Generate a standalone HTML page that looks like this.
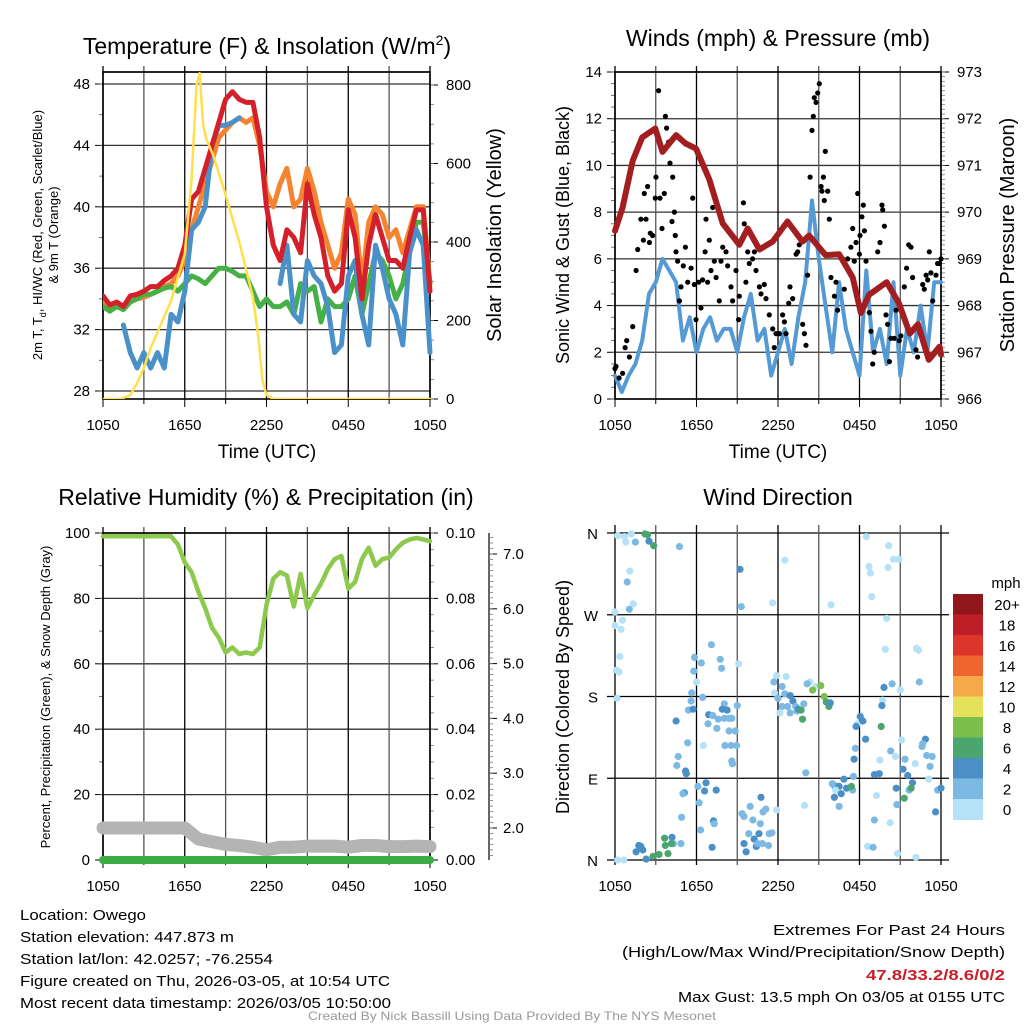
<!DOCTYPE html>
<html><head><meta charset="utf-8"><style>
html,body{margin:0;padding:0;background:#fff}
svg{display:block;font-family:"Liberation Sans",sans-serif}
</style></head><body>
<svg id="fig" width="1024" height="1024" viewBox="0 0 1024 1024" xmlns="http://www.w3.org/2000/svg">
<rect width="1024" height="1024" fill="#fff"/>
<g id="p1"></g>
<g id="p2"></g>
<g id="p3"></g>
<g id="p4"></g>

<text x="267" y="54" font-size="23" text-anchor="middle">Temperature (F) &amp; Insolation (W/m<tspan dy="-9" font-size="14">2</tspan><tspan dy="9">)</tspan></text>
<text x="778" y="46" font-size="23" text-anchor="middle">Winds (mph) &amp; Pressure (mb)</text>
<text x="266" y="505" font-size="23" text-anchor="middle">Relative Humidity (%) &amp; Precipitation (in)</text>
<text x="778" y="505" font-size="23" text-anchor="middle">Wind Direction</text>

<text x="267" y="458" font-size="19" text-anchor="middle">Time (UTC)</text>
<text x="778" y="458" font-size="19" text-anchor="middle">Time (UTC)</text>

<text transform="translate(42,235) rotate(-90)" font-size="13" text-anchor="middle">2m T, T<tspan dy="4" font-size="9">d</tspan><tspan dy="-4">, HI/WC (Red, Green, Scarlet/Blue)</tspan></text>
<text transform="translate(58,235) rotate(-90)" font-size="13" text-anchor="middle">&amp; 9m T (Orange)</text>
<text transform="translate(501,235) rotate(-90)" font-size="20" text-anchor="middle">Solar Insolation (Yellow)</text>
<text transform="translate(569,235) rotate(-90)" font-size="18" text-anchor="middle">Sonic Wind &amp; Gust (Blue, Black)</text>
<text transform="translate(1014,235) rotate(-90)" font-size="20" text-anchor="middle">Station Pressure (Maroon)</text>
<text transform="translate(50,697) rotate(-90)" font-size="13" text-anchor="middle">Percent, Precipitation (Green), &amp; Snow Depth (Gray)</text>
<text transform="translate(569,697) rotate(-90)" font-size="18" text-anchor="middle">Direction (Colored By Speed)</text>

<g font-size="15">
<text x="20" y="920" textLength="126" lengthAdjust="spacingAndGlyphs">Location: Owego</text>
<text x="20" y="942" textLength="214" lengthAdjust="spacingAndGlyphs">Station elevation: 447.873 m</text>
<text x="20" y="964" textLength="253" lengthAdjust="spacingAndGlyphs">Station lat/lon: 42.0257; -76.2554</text>
<text x="20" y="986" textLength="370" lengthAdjust="spacingAndGlyphs">Figure created on Thu, 2026-03-05, at 10:54 UTC</text>
<text x="20" y="1008" textLength="371" lengthAdjust="spacingAndGlyphs">Most recent data timestamp: 2026/03/05 10:50:00</text>
</g>
<g font-size="15">
<text x="773" y="935" textLength="232" lengthAdjust="spacingAndGlyphs">Extremes For Past 24 Hours</text>
<text x="622" y="957" textLength="383" lengthAdjust="spacingAndGlyphs">(High/Low/Max Wind/Precipitation/Snow Depth)</text>
<text x="866" y="980" textLength="139" lengthAdjust="spacingAndGlyphs" fill="#c8202a" font-weight="bold">47.8/33.2/8.6/0/2</text>
<text x="678" y="1002" textLength="327" lengthAdjust="spacingAndGlyphs">Max Gust: 13.5 mph On 03/05 at 0155 UTC</text>
</g>
<text x="308" y="1020" font-size="12" fill="#999" textLength="408" lengthAdjust="spacingAndGlyphs">Created By Nick Bassill Using Data Provided By The NYS Mesonet</text>
</svg>
<script>
// ---------- DATA ----------
const halfHours = [0,0.5,1,1.5,2,2.5,3,3.5,4,4.5,5,5.5,6,6.5,7,7.5,8,8.5,9,9.5,10,10.5,11,11.5,12,12.5,13,13.5,14,14.5,15,15.5,16,16.5,17,17.5,18,18.5,19,19.5,20,20.5,21,21.5,22,22.5,23,23.5,24];
const tempRed = [34.2,33.6,33.8,33.5,34.2,34.3,34.5,34.8,34.8,35.2,35.5,36.0,37.5,40.5,41,42.5,44,45.5,47,47.5,47,46.8,46.8,44.5,40,37.5,36.5,38.5,38,37,41.5,39.5,38,35.5,34.5,35,39.8,38,34,37.5,39.5,38,36.5,36.5,36,38,39.8,39.8,34.5];
const tempOrange = [33.9,33.4,33.6,33.4,33.9,34,34.1,34.3,34.5,34.8,35,35.5,36.5,38.5,40,41.5,43,44.5,45,45.5,45.8,45.5,45.8,44,41,40,41.5,42.5,40,40.5,42.5,41,39,37.5,36,37,40.5,39.5,35,39,40,39.5,38,38.5,37,38.5,40,40,35];
const tempGreen = [33.5,33.2,33.5,33.3,33.8,34,34.3,34.3,34.5,34.7,34.8,34.5,35,35.5,35.3,35,35.5,36,36,35.8,35.5,35.5,34.5,33.5,34,33.5,33.5,33.8,33,35,34.5,34.8,32.5,34,33.5,33.5,34,35.5,33,35,37,36.5,35.5,34,35,37,39,39,35];
const tempBlue = [null,null,null,32.3,30.5,29.5,30.5,29.5,30.5,29.5,33,32.5,34.5,38.5,39,40,44,45.3,45.3,45.5,45.8,null,null,null,null,null,35,37.5,33,32.5,36.5,35.5,35,33.5,30.5,31,35.5,36.5,33,31,37.5,36,34,33,31,37,38.5,37.5,30.5];
const solarHours = [0,1.3,2,2.5,3,3.5,4,4.5,5,5.5,6,6.5,6.86,7.1,7.35,7.6,8.1,9,10,11,11.4,11.7,12,12.5,24];
const solar = [0,0,10,40,80,130,170,210,250,310,370,560,800,830,700,660,620,520,400,260,160,50,10,0,0];
const pressHours = [0,0.56,1.3,2.0,2.97,3.5,4.5,5.2,5.96,6.94,7.93,9.15,9.77,10.63,11.6,12.7,13.8,14.3,15.5,16.5,17.5,18.1,18.7,20,20.9,21.7,22.3,23.1,23.9,24];
const pressure = [969.6,970.1,971.1,971.6,971.79,971.29,971.65,971.47,971.36,970.7,969.76,969.3,969.65,969.2,969.37,969.8,969.37,969.5,969.08,969.1,968.6,967.84,968.23,968.5,968.05,967.4,967.6,966.84,967.12,966.95];
const windSpeed = [1,0.3,1,1.5,2.5,4.5,5,6,5.5,5,2.5,3.5,2,3,3.5,2.5,3,3,2,3.5,4.5,2.5,3,1,2,3,1.5,3.5,5,8.5,6,4,2,5,3,2,1,5.5,2,3,1.5,5,1,3,2,4,2,5,5];
const gustHours = [0,0.07,0.3,0.56,0.74,0.86,1.06,1.3,1.55,1.67,1.91,2.09,2.16,2.28,2.4,2.53,2.6,2.77,2.97,3.02,3.21,3.31,3.46,3.63,3.71,3.8,3.95,4.05,4.2,4.25,4.37,4.44,4.49,4.61,4.74,4.86,5.03,5.18,5.35,5.6,5.72,5.84,5.96,6.16,6.33,6.45,6.63,6.7,6.82,6.94,7.07,7.19,7.31,7.44,7.68,7.8,7.93,8.17,8.29,8.54,8.66,8.91,9.1,9.15,9.45,9.52,9.64,9.77,9.89,10.13,10.26,10.38,10.63,10.75,10.99,11.12,11.36,11.61,11.73,11.85,12.1,12.34,12.47,12.59,12.79,12.88,13.08,13.33,13.45,13.57,13.82,13.94,14.06,14.18,14.36,14.5,14.6,14.67,14.8,14.92,15.04,15.17,15.24,15.34,15.41,15.48,15.66,15.78,15.9,16.15,16.27,16.39,16.76,16.88,17.13,17.37,17.5,17.62,17.74,17.87,17.99,18.04,18.18,18.28,18.36,18.48,18.72,18.85,18.97,19.09,19.34,19.51,19.66,19.71,19.83,19.95,20.07,20.2,20.32,20.56,20.69,20.93,21.05,21.3,21.47,21.62,21.79,21.91,22.16,22.28,22.65,22.77,22.9,23.02,23.14,23.26,23.39,23.63,23.75,23.88,24];
const gustSpeed = [1.3,1.4,0.9,1.1,2.2,2.5,1.8,3.1,5.5,6.4,7.7,6.8,8.8,7.7,9.1,6.7,7.1,7,8.6,9.5,13.2,8.6,7.3,8.8,12.1,11.6,11,10.1,7.6,9.5,8,7,6.3,5.9,4.2,4.8,5.7,6.5,5,5.6,8.6,4.9,3.4,5,3.9,5.1,6.3,7.7,5,6.8,5.5,8.2,5.9,5.2,4.2,5.9,6.5,6.3,5.7,4.8,4.2,5.5,3.4,4.4,8.4,7.5,5,6.3,5.8,6,6.3,5.5,4.8,4.5,4.9,4.3,3.6,3,2.2,2.8,2.8,3.6,3.3,2.8,4.1,4.8,4.3,6.2,6.3,6.6,3.2,2.8,2.3,5.3,9.5,11.5,12.1,12.9,12.7,13.1,13.5,9.1,8.9,9.5,8.5,10.6,8.9,7.7,5.2,4.4,5,3.8,6,4.7,6,6.5,7.3,5.9,6.7,8.8,6.2,7,7.8,8.3,7.2,5.9,3.7,2.9,1.5,2,6.3,6.7,8.3,8.1,7.4,3.6,3.2,1.6,2.6,2.6,3.8,2.5,2.7,4.8,5.6,6.6,6.5,5.2,2.1,1.8,4.9,4.7,5.3,5.1,6.3,5.4,4.2,5.3,5.8,5.8,6];
const rhHumidity = [99,99,99,99,99,99,99,99,99,99,99,96.5,91,88,82,77,71,68,63.5,65,63,63.5,63,65,78,86,88,87,77.5,87.5,77,81,84.5,89,92,93,83,85,92,95.5,90,92,92.5,95,97,98,98.5,98,97.5];
const snowHours = [0,1,2,3,4,5,6,7,8,9,10,11,12,13,14,15,16,17,18,19,20,21,22,23,24];
const snowDepth = [2.0,2.0,2.0,2.0,2.0,2.0,2.0,1.8,1.75,1.7,1.68,1.65,1.6,1.65,1.65,1.67,1.67,1.67,1.65,1.68,1.68,1.66,1.66,1.67,1.66];
const precip = [0,0,0,0,0,0,0,0,0,0,0,0,0,0,0,0,0,0,0,0,0,0,0,0,0];
const dirHour = [0.2,0.7,0.8,1.2,1.5,2.2,2.4,2.5,2.85,4.75,12.5,9.2,1.1,0.9,1.35,1.05,9.3,11.6,15.9,18.5,20.15,20.5,20.9,20.1,18.7,18.8,18.9,0,0,0.55,0.45,0.35,0.1,0.3,0.15,20,19.9,22.2,22.35,22.4,7.1,5.85,6.35,7.75,7.85,5.8,6.0,9.1,5.65,6.45,5.6,5.4,5.75,8.05,7.9,8.25,9.0,6.9,7.2,6.85,7.6,8.05,8.4,8.6,7.5,8.4,8.85,8.1,8.55,8.95,6.5,5.35,4.5,4.65,4.55,8.6,8.65,5.2,5.25,5.1,5.0,6.1,6.7,6.6,7.45,6.2,4.9,6.3,7.25,7.3,7.15,4.2,4.3,4.85,3.65,3.7,4.15,3.9,3.25,2.8,1.75,1.9,1.55,2.3,0.2,0.65,2.05,9.95,9.35,9.5,10.75,10.9,11.9,11.1,10.15,10.7,9.85,10.6,11.35,11.55,9.5,9.65,10.25,10.4,11.3,10.85,10.5,11.9,12.6,11.7,12.3,11.75,12.0,12.5,12.9,13.1,13.3,12.7,12.3,12.15,12.9,13.4,13.5,13.7,13.8,13.9,14.35,14.15,14.8,15.15,14.55,15.4,15.55,15.75,15.85,14.05,13.95,17.85,18.05,18.25,17.75,18.45,17.7,17.6,16.85,16.5,16.15,16.0,16.25,16.65,17.05,17.5,17.4,16.15,16.5,17.55,19.8,20.4,21.0,19.7,19.65,19.6,20.3,20.65,19.5,19.45,19.1,19.25,20.7,20.75,21.35,22.1,21.1,22.85,22.65,22.6,22.95,23.35,23.2,21.2,21.55,21.9,21.65,21.8,21.3,23.1,23.75,24,23.6,19.1,20.25,18.6,19.0,20.8,22.15];
const dirDeg = [357,356,350,359,350,359,358,351,346,345,330,320,318,306,282,276,279,283,281,356,346,331,331,322,323,316,290,273,258,264,254,224,209,207,178,266,232,233,231,196,237,223,217,221,211,208,196,216,184,179,175,165,166,172,166,165,170,160,159,150,155,156,156,156,145,142,142,126,126,126,126,129,153,114,104,109,106,98,95,74,73,81,85,76,77,63,47,33,43,40,14,25,18,18,24,16,18,7,6,4,16,15,9,1,0,0,11,59,51,48,69,53,55,56,44,40,29,29,29,30,18,9,23,15,16,18,18,203,202,196,191,184,178,183,181,175,169,169,169,162,162,164,166,165,155,172,196,194,191,192,187,180,174,169,173,96,60,150,158,153,147,133,123,111,89,81,82,84,77,73,79,77,81,69,59,92,190,194,187,176,170,147,120,114,110,95,94,71,79,61,111,106,132,133,128,125,115,114,103,100,93,85,77,79,68,89,77,79,53,44,41,15,14,7,3];
const dirSpd = [1,1,1,1,3,7,7,5,7,3,1,5,1,3,1,3,3,1,1,1,1,1,1,1,1,1,1,1,1,1,1,1,1,1,1,1,1,1,1,3,3,3,3,3,3,3,1,1,3,3,3,3,5,3,5,5,3,5,3,3,3,3,3,3,3,3,3,3,3,3,1,3,5,3,3,3,3,5,5,5,3,3,5,5,5,3,3,3,5,3,5,5,3,3,7,7,7,7,7,7,5,5,5,5,1,1,5,3,3,3,5,3,1,3,3,3,3,5,3,3,5,5,5,5,3,3,3,1,1,3,3,1,3,3,5,5,3,3,3,1,3,3,5,7,7,3,1,3,1,9,9,9,7,7,5,3,1,1,5,5,5,5,3,5,5,5,5,3,1,5,5,3,7,5,3,3,5,3,1,1,5,7,3,1,1,5,5,1,5,3,3,1,1,5,3,3,3,3,3,5,5,5,3,7,7,1,3,5,5,3,1,1,3,1,1,1];
const speedBins = ["0","2","4","6","8","10","12","14","16","18","20+"];
const speedColors = ["#b6e2f7","#7cb9e3","#4a8fc6","#4aa56e","#7cc04b","#e6e15b","#f5a948","#ee6530","#dc3529","#bd1e27","#911619"];

const timeLabels = ["1050","1650","2250","0450","1050"];
const tempTicks = [28,32,36,40,44,48];
const solarTicks = [0,200,400,600,800];
const windTicks = [0,2,4,6,8,10,12,14];
const pressTicks = [966,967,968,969,970,971,972,973];
const rhTicks = [0,20,40,60,80,100];
const precipTicks = ["0.00","0.02","0.04","0.06","0.08","0.10"];
const snowTicks = ["2.0","3.0","4.0","5.0","6.0","7.0"];
const dirLabels = ["N","E","S","W","N"];

// ---------- HELPERS ----------
const NS = "http://www.w3.org/2000/svg";
function el(tag, parent){ const e = document.createElementNS(NS, tag); parent.appendChild(e); return e; }
function line(p, x1,y1,x2,y2, col, w){ const l = el("line", p); l.setAttribute("x1",x1); l.setAttribute("y1",y1); l.setAttribute("x2",x2); l.setAttribute("y2",y2); l.setAttribute("stroke",col); l.setAttribute("stroke-width",w); return l; }
function txt(p, x, y, s, size, anchor){ const t = el("text", p); t.setAttribute("x",x); t.setAttribute("y",y); t.setAttribute("font-size",size); t.setAttribute("text-anchor",anchor); t.textContent = s; return t; }
function pathD(xsArr, ysArr, xf, yf){ let d = "", pen = false; for(let i=0;i<xsArr.length;i++){ const v = ysArr[i]; if(v===null||v===undefined){pen=false;continue;} d += (pen?"L":"M") + xf(xsArr[i]).toFixed(1)+","+yf(v).toFixed(1); pen=true; } return d; }
function polyl(p, d, col, w){ const e = el("path", p); e.setAttribute("d",d); e.setAttribute("fill","none"); e.setAttribute("stroke",col); e.setAttribute("stroke-width",w); e.setAttribute("stroke-linejoin","round"); e.setAttribute("stroke-linecap","round"); return e; }

function frame(p, x0, x1, yTop, yBot, xf){
  for(let h=0; h<=24; h+=3){
    const x = xf(h);
    const g = line(p, x, yTop-6, x, yBot, (h%6===0)?"#000":"#555", 1.3);
    
    
    const tk = line(p, x, yBot, x, yBot+(h%6===0?8:5), "#000", 1);
    
    
  }
  for(let i=0;i<timeLabels.length;i++){
    const t = txt(p, xf(i*6), yBot+31, timeLabels[i], 15, "middle");
    
    
  }
  const r = el("rect", p); r.setAttribute("x",x0); r.setAttribute("y",yTop); r.setAttribute("width",x1-x0); r.setAttribute("height",yBot-yTop); r.setAttribute("fill","none"); r.setAttribute("stroke","#000"); r.setAttribute("stroke-width",1.6);
  
  
}
function yAxisLeft(p, x, ticks, labels, yf, minorStep, lo, hi, gridX1, gridOn){
  for(let i=0;i<ticks.length;i++){
    const y = yf(ticks[i]);
    if(gridOn){ const g = line(p, x, y, gridX1, y, "#333", 1.3);
      
       }
    line(p, x-8, y, x, y, "#000", 1);
    const t = txt(p, x-13, y+5, labels[i], 15, "end");
    
    
  }
  if(minorStep){ for(let v=lo; v<=hi+1e-9; v+=minorStep){ line(p, x-4, yf(v), x, yf(v), "#555", 0.8); } }
}
function yAxisRight(p, x, ticks, labels, yf, minorStep, lo, hi, off){
  for(let i=0;i<ticks.length;i++){
    const y = yf(ticks[i]);
    line(p, x, y, x+8, y, "#000", 1);
    const t = txt(p, x+(off||16), y+5, labels[i], 15, "start");
    
    
  }
  if(minorStep){ for(let v=lo; v<=hi+1e-9; v+=minorStep){ line(p, x, yf(v), x+4, yf(v), "#777", 0.8); } }
}

// ---------- PANEL 1 ----------
(function(){
  const p = document.getElementById("p1");
  const X0=103, X1=430, YT=72, YB=399;
  const xs = h => X0 + h*(X1-X0)/24;
  const yT = t => 391 - (t-28)*15.35;
  const yI = v => 399 - v*(314/800);
  yAxisLeft(p, X0, tempTicks, tempTicks.map(String), yT, 2, 28, 48, X1, true);
  line(p, X0, YT, X1, YT, "#000", 1.3);
  yAxisRight(p, X1, solarTicks, solarTicks.map(String), yI, 50, 0, 800);
  frame(p, X0, X1, YT, YB, xs);
  const cp = el("clipPath", p); cp.setAttribute("id","c1"); const cr = el("rect", cp); cr.setAttribute("x",X0); cr.setAttribute("y",YT-4); cr.setAttribute("width",X1-X0+3); cr.setAttribute("height",YB-YT+4);
  const g = el("g", p); g.setAttribute("clip-path","url(#c1)");
  const s1 = polyl(g, pathD(halfHours, tempOrange, xs, yT), "#f58430", 5);
  
  
  const s2 = polyl(g, pathD(halfHours, tempGreen, xs, yT), "#45b045", 5);
  
  
  const s3 = polyl(g, pathD(halfHours, tempBlue, xs, yT), "#4b91c9", 5);
  
  
  const s4 = polyl(g, pathD(halfHours, tempRed, xs, yT), "#d4202a", 5);
  
  
  const s5 = polyl(g, pathD(solarHours, solar, xs, yI), "#ffe04b", 2.5);
  
  
})();

// ---------- PANEL 2 ----------
(function(){
  const p = document.getElementById("p2");
  const X0=615, X1=941, YT=72, YB=399;
  const xs = h => X0 + h*(X1-X0)/24;
  const yW = w => 399 - w*(327/14);
  const yP = v => 399 - (v-966)*(327/7);
  yAxisLeft(p, X0, windTicks, windTicks.map(String), yW, 0.5, 0, 14, X1, true);
  yAxisRight(p, X1, pressTicks, pressTicks.map(String), yP, 0.1, 966, 973);
  frame(p, X0, X1, YT, YB, xs);
  const s1 = polyl(p, pathD(halfHours, windSpeed, xs, yW), "#559ad4", 4);
  
  
  for(let i=0;i<gustHours.length;i++){
    const c = el("circle", p); c.setAttribute("cx", xs(gustHours[i]).toFixed(1)); c.setAttribute("cy", yW(gustSpeed[i]).toFixed(1)); c.setAttribute("r", 2.6); c.setAttribute("fill","#000");
    
    
  }
  const s2 = polyl(p, pathD(pressHours, pressure, xs, yP), "#a31e20", 6);
  
  
})();

// ---------- PANEL 3 ----------
(function(){
  const p = document.getElementById("p3");
  const X0=103, X1=430, YT=533, YB=860;
  const xs = h => X0 + h*(X1-X0)/24;
  const yR = v => 860 - v*3.27;
  const yS = s => 828 - (s-2)*54.8;
  yAxisLeft(p, X0, rhTicks, rhTicks.map(String), yR, 10, 0, 100, X1, true);
  yAxisRight(p, X1, rhTicks, precipTicks, yR, 5, 0, 100);
  line(p, 489, YT, 489, YB, "#000", 1.2);
  const snowVals = snowTicks.map(Number);
  for(let i=0;i<snowVals.length;i++){
    const y = yS(snowVals[i]);
    line(p, 489, y, 497, y, "#000", 1);
    const t = txt(p, 503, y+5, snowTicks[i], 15, "start");
    
    
  }
  for(let v=1.5; v<=7.3; v+=0.1){ line(p, 489, yS(v), 493, yS(v), "#777", 0.8); }
  frame(p, X0, X1, YT, YB, xs);
  const s0 = polyl(p, pathD(snowHours, snowDepth, xs, yS), "#b4b4b4", 13);
  
  
  const s1 = polyl(p, pathD(snowHours, precip, xs, v => yR(v*1000)), "#3cad45", 8);
  
  
  const s2 = polyl(p, pathD(halfHours, rhHumidity, xs, yR), "#8cc94c", 4.5);
  
  
})();

// ---------- PANEL 4 ----------
(function(){
  const p = document.getElementById("p4");
  const X0=615, X1=941, YT=533, YB=860;
  const xs = h => X0 + h*(X1-X0)/24;
  const yD = d => 860 - d*(327/360);
  for(let i=0;i<dirLabels.length;i++){
    const y = yD(i*90);
    const g = line(p, X0-8, y, X1+8, y, "#000", 1.3);
    
    
    const t = txt(p, X0-17, y+6, dirLabels[i], 15, "end");
    
    
  }
  for(let h=0; h<=24; h+=3){
    const x = xs(h);
    const g = line(p, x, YT-8, x, YB+5, (h%6===0)?"#000":"#555", 1.3);
    
    
  }
  for(let i=0;i<timeLabels.length;i++){
    const t = txt(p, xs(i*6), YB+31, timeLabels[i], 15, "middle");
    
    
  }
  for(let i=0;i<dirHour.length;i++){
    const ci = Math.min(speedColors.length-1, Math.floor(dirSpd[i]/2));
    const c = el("circle", p); c.setAttribute("cx", xs(dirHour[i]).toFixed(1)); c.setAttribute("cy", yD(dirDeg[i]).toFixed(1)); c.setAttribute("r", 3.6); c.setAttribute("fill", speedColors[ci]);
    
    
  }
  const cbTop = 594, cbH = 20.5;
  const mph = txt(p, 1006, 588, "mph", 15, "middle");
  
  
  for(let i=0;i<speedBins.length;i++){
    const k = speedBins.length-1-i;
    const r = el("rect", p); r.setAttribute("x",953); r.setAttribute("y",cbTop+i*cbH); r.setAttribute("width",30); r.setAttribute("height",cbH+0.5); r.setAttribute("fill",speedColors[k]);
    
    
    const t = txt(p, 1007, cbTop+i*cbH+16, speedBins[k], 15, "middle");
    
    
  }
})();
</script>
</body></html>
